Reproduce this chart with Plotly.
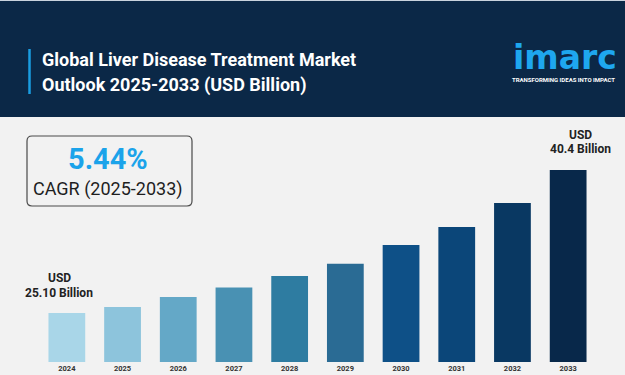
import plotly.graph_objects as go

# ---- data ----
years = ["2024", "2025", "2026", "2027", "2028", "2029", "2030", "2031", "2032", "2033"]
values = [25.10, 25.74, 26.81, 27.82, 29.06, 30.38, 32.37, 34.30, 36.86, 40.40]
bar_colors = ["#a9d6e8", "#8dc4dc", "#64a8c7", "#4991b3", "#2e7ca1",
              "#2a6b94", "#0e5087", "#0b4679", "#093862", "#08284a"]
cagr_value = "5.44%"
cagr_label = "CAGR (2025-2033)"
title_lines = ["Global Liver Disease Treatment Market", "Outlook 2025-2033 (USD Billion)"]
y_axis_range = [19.86, 45.74]

# ---- layout geometry (pixels) ----
W, H = 625, 375
ML, MR, MT, MB = 39, 29, 120, 13
PW, PH = W - ML - MR, H - MT - MB


def px(x):
    return (x - ML) / PW


def py(y):
    return (H - MB - y) / PH


def rounded_rect(x0, y0, x1, y1, r):
    pts = [
        f"M {px(x0 + r)},{py(y0)}",
        f"L {px(x1 - r)},{py(y0)}",
        f"Q {px(x1)},{py(y0)} {px(x1)},{py(y0 + r)}",
        f"L {px(x1)},{py(y1 - r)}",
        f"Q {px(x1)},{py(y1)} {px(x1 - r)},{py(y1)}",
        f"L {px(x0 + r)},{py(y1)}",
        f"Q {px(x0)},{py(y1)} {px(x0)},{py(y1 - r)}",
        f"L {px(x0)},{py(y0 + r)}",
        f"Q {px(x0)},{py(y0)} {px(x0 + r)},{py(y0)}",
        "Z",
    ]
    return " ".join(pts)


BG = "#f2f2f2"
NAVY = "#0b2847"
FONT = "Roboto"

fig = go.Figure(
    go.Bar(
        x=years,
        y=values,
        marker=dict(color=bar_colors, line=dict(width=0)),
        width=0.66,
        hoverinfo="x+y",
    )
)

shapes = [
    # header band
    dict(type="rect", xref="paper", yref="paper", x0=px(-2), x1=px(W + 2),
         y0=py(117), y1=py(-2), fillcolor=NAVY, line=dict(width=0), layer="below"),
    dict(type="rect", xref="paper", yref="paper", x0=px(-2), x1=px(W + 2),
         y0=py(1), y1=py(-2), fillcolor="#c9d3dd", line=dict(width=0), layer="below"),
    # accent line
    dict(type="line", xref="paper", yref="paper", x0=px(29.5), x1=px(29.5),
         y0=py(49), y1=py(94), line=dict(color="#1a9de0", width=2.5)),
    # CAGR box
    dict(type="path", xref="paper", yref="paper",
         path=rounded_rect(27, 136, 192, 206, 5),
         line=dict(color="#4a4a4a", width=1.2), fillcolor=BG, layer="below"),
]

first, last = 0, len(years) - 1  # category positions for the end labels

annotations = [
    dict(text=title_lines[0], x=px(40), y=py(59.5), xanchor="left", yanchor="middle",
         font=dict(family=FONT, size=18, color="white", weight="bold")),
    dict(text=title_lines[1], x=px(40), y=py(84.5), xanchor="left", yanchor="middle",
         font=dict(family=FONT, size=18, color="white", weight="bold")),
    # logo
    dict(text="imarc", x=px(565), y=py(57), xanchor="center", yanchor="middle",
         font=dict(family="DejaVu Sans", size=33, color="#1ea7ef", weight="bold")),
    dict(text="TRANSFORMING IDEAS INTO IMPACT", x=px(563), y=py(79.5),
         xanchor="center", yanchor="middle",
         font=dict(family=FONT, size=6, color="white", weight="bold")),
    # CAGR
    dict(text=cagr_value, x=px(108), y=py(159), xanchor="center", yanchor="middle",
         font=dict(family=FONT, size=29, color="#1ba3ea", weight="bold")),
    dict(text=cagr_label, x=px(108), y=py(189), xanchor="center", yanchor="middle",
         font=dict(family=FONT, size=18, color="#1e1e1e")),
    # value labels
    dict(text="USD", x=first, y=values[first], xref="x", yref="y", xshift=-7.5, yshift=35,
         xanchor="center", yanchor="middle",
         font=dict(family=FONT, size=12, color="#222222", weight="bold")),
    dict(text=f"{values[first]:.2f} Billion", x=first, y=values[first], xref="x", yref="y",
         xshift=-7.5, yshift=20, xanchor="center", yanchor="middle",
         font=dict(family=FONT, size=12, color="#222222", weight="bold")),
    dict(text="USD", x=last, y=values[last], xref="x", yref="y", xshift=12, yshift=35,
         xanchor="center", yanchor="middle",
         font=dict(family=FONT, size=12, color="#222222", weight="bold")),
    dict(text=f"{values[last]:.1f} Billion", x=last, y=values[last], xref="x", yref="y",
         xshift=12, yshift=21, xanchor="center", yanchor="middle",
         font=dict(family=FONT, size=12, color="#222222", weight="bold")),
]
for a in annotations:
    a.setdefault("xref", "paper")
    a.setdefault("yref", "paper")
    a["showarrow"] = False

fig.update_layout(
    width=W, height=H,
    margin=dict(l=ML, r=MR, t=MT, b=MB, autoexpand=False),
    paper_bgcolor=BG, plot_bgcolor=BG,
    showlegend=False,
    bargap=0.34,
    shapes=shapes,
    annotations=annotations,
    xaxis=dict(
        type="category", range=[-0.5, len(years) - 0.5],
        showgrid=False, zeroline=False, showline=False,
        ticks="", automargin=False,
        tickfont=dict(family=FONT, size=7.5, color="#333333", weight="bold"),
    ),
    yaxis=dict(range=y_axis_range, visible=False, showgrid=False, zeroline=False),
)

fig.write_html("out.html", config={"displayModeBar": False})

# remove the default page margin so the figure sits at the window's top-left corner
with open("out.html", "r", encoding="utf-8") as f:
    html = f.read()
html = html.replace("<head>", "<head><style>html,body{margin:0;padding:0;overflow:hidden;background:#f2f2f2}</style>", 1)
with open("out.html", "w", encoding="utf-8") as f:
    f.write(html)
